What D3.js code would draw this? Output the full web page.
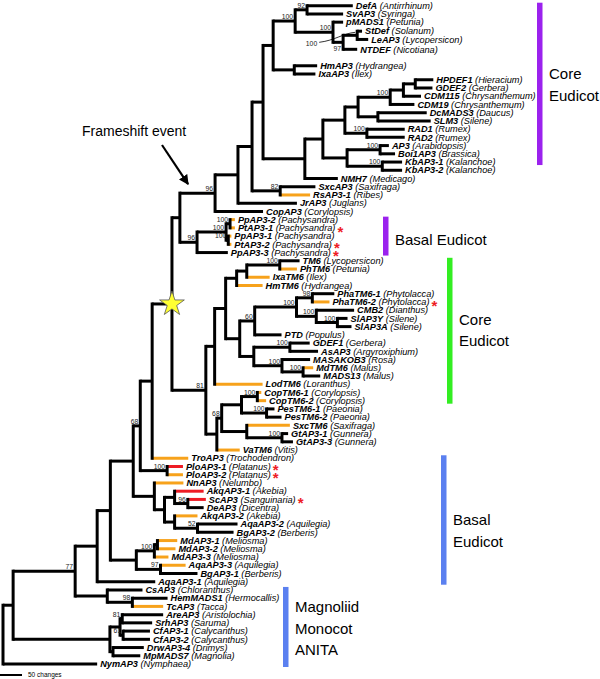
<!DOCTYPE html>
<html>
<head>
<meta charset="utf-8">
<script src="https://cdn.jsdelivr.net/npm/d3@7"></script>
<style>
  body { margin: 0; background: #fff; }
  svg { display: block; font-family: "Liberation Sans", Arial, sans-serif; }
</style>
</head>
<body>
<svg width="600" height="679"></svg>
<script>
const width = 600, height = 679;

// --- Tree data (Newick pieces, branch lengths in changes, internal labels = bootstrap) ---
const solanaceae = "((DefA:104,SvAP3:82)92:27,(pMADS1:23,((StDef:11,LeAP3:25)100:32,NTDEF:32)97:23)100:86)100";
const asterids = "(" + solanaceae + ":50,(HmAP3:52,IxaAP3:48):48)";
const coreA = "((((HPDEF1:41,GDEF2:39):27,CDM115:40):30,CDM19:55)100:73,(DcMADS3:111,SLM3:120):45)";
const coreB = "(" + coreA + ":30,(RAD1:86,RAD2:86)100:50)";
const coreC = "((AP3:20,Boi1AP3:34)100:75,(KbAP3-1:45,KbAP3-2:45)100:80)";
const rosids = "((" + coreB + ":50," + coreC + ":55):41,NMH7:75)";
const euAP3 = "((((" + asterids + ":23," + rosids + ":95):25,(SxcAP3:80,RsAP3-1:68)82:64):32,JrAP3:134):52,CopAP3:109)96";
const pachy = "(((PpAP3-2:11,PtAP3-1:11)100:9,(PpAP3-1:7,PtAP3-2:7)100:5)100:66,PpAP3-3:70)96";
const tm6a = "(((TM6:45,PhTM6:39)100:75,IxaTM6:52):23,HmTM6:59)";
const tm6b = "(((PhaTM6-1:50,PhaTM6-2:39)98:36,(CMB2:86,(SlAP3Y:23,SlAP3A:32)100:48)100:45)100:95,PTD:61)60";
const tm6c = "((GDEF1:45,AsAP3:64)100:82,(MASAKOB3:64,(MdTM6:23,MADS13:39)100:48)100:64)";
const tm6d = "((((CopTM6-1:9,CopTM6-2:20)100:36,(PesTM6-1:18,PesTM6-2:34)100:57):45,(SxcTM6:98,(GtAP3-1:14,GtAP3-3:25)100:80):57)68:11,VaTM6:52)";
const tm6 = "(((" + tm6a + ":25,(" + tm6b + ":34," + tm6c + ":32):32):25,LodTM6:109):20," + tm6d + ":25)81";
const starClade = "((" + euAP3 + ":80," + pachy + ":39):18," + tm6 + ":77)star";
const basalEud = "(((" + starClade + ":45,TroAP3:82):27,(PloAP3-1:36,PloAP3-2:36)100:61)68:16,(NnAP3:66,((AkqAP3-1:66,(ScAP3:41,DeAP3:36)96:30):23,(AkqAP3-2:52,(AqaAP3-2:91,BgAP3-2:82)52:52):23):23):48)";
const meliosma = "(((MdAP3-1:45,MdAP3-2:41):7,MdAP3-3:32)100:41,(AqaAP3-3:57,BgAP3-1:84)97:55)";
const eudicots = "((" + basalEud + ":52," + meliosma + ":59):30,AqaAP3-1:132)";
const monocots = "(CsAP3:80,(HemMADS1:80,TcAP3:70)98:57)";
const magnoliids = "(((AreAP3:93,SrhAP3:68)81:5,(CfAP3-1:61,CfAP3-2:61)61:7):23,(DrwAP3-4:70,MpMADS7:62):7)";
const newick = "(((" + eudicots + ":50," + monocots + ":73)77:141," + magnoliids + ":220):23,NymAP3:214);";

const species = {
  "DefA": "Antirrhinum", "SvAP3": "Syringa", "pMADS1": "Petunia", "StDef": "Solanum",
  "LeAP3": "Lycopersicon", "NTDEF": "Nicotiana", "HmAP3": "Hydrangea", "IxaAP3": "Ilex",
  "HPDEF1": "Hieracium", "GDEF2": "Gerbera", "CDM115": "Chrysanthemum", "CDM19": "Chrysanthemum",
  "DcMADS3": "Daucus", "SLM3": "Silene", "RAD1": "Rumex", "RAD2": "Rumex",
  "AP3": "Arabidopsis", "Boi1AP3": "Brassica", "KbAP3-1": "Kalanchoe", "KbAP3-2": "Kalanchoe",
  "NMH7": "Medicago", "SxcAP3": "Saxifraga", "RsAP3-1": "Ribes", "JrAP3": "Juglans",
  "CopAP3": "Corylopsis", "PpAP3-2": "Pachysandra", "PtAP3-1": "Pachysandra", "PpAP3-1": "Pachysandra",
  "PtAP3-2": "Pachysandra", "PpAP3-3": "Pachysandra", "TM6": "Lycopersicon", "PhTM6": "Petunia",
  "IxaTM6": "Ilex", "HmTM6": "Hydrangea", "PhaTM6-1": "Phytolacca", "PhaTM6-2": "Phytolacca",
  "CMB2": "Dianthus", "SlAP3Y": "Silene", "SlAP3A": "Silene", "PTD": "Populus",
  "GDEF1": "Gerbera", "AsAP3": "Argyroxiphium", "MASAKOB3": "Rosa", "MdTM6": "Malus",
  "MADS13": "Malus", "LodTM6": "Loranthus", "CopTM6-1": "Corylopsis", "CopTM6-2": "Corylopsis",
  "PesTM6-1": "Paeonia", "PesTM6-2": "Paeonia", "SxcTM6": "Saxifraga", "GtAP3-1": "Gunnera",
  "GtAP3-3": "Gunnera", "VaTM6": "Vitis", "TroAP3": "Trochodendron", "PloAP3-1": "Platanus",
  "PloAP3-2": "Platanus", "NnAP3": "Nelumbo", "AkqAP3-1": "Akebia", "ScAP3": "Sanguinaria",
  "DeAP3": "Dicentra", "AkqAP3-2": "Akebia", "AqaAP3-2": "Aquilegia", "BgAP3-2": "Berberis",
  "MdAP3-1": "Meliosma", "MdAP3-2": "Meliosma", "MdAP3-3": "Meliosma", "AqaAP3-3": "Aquilegia",
  "BgAP3-1": "Berberis", "AqaAP3-1": "Aquilegia", "CsAP3": "Chloranthus", "HemMADS1": "Hermocallis",
  "TcAP3": "Tacca", "AreAP3": "Aristolochia", "SrhAP3": "Saruma", "CfAP3-1": "Calycanthus",
  "CfAP3-2": "Calycanthus", "DrwAP3-4": "Drimys", "MpMADS7": "Magnolia", "NymAP3": "Nymphaea"
};

const orangeTips = ["RsAP3-1", "PpAP3-2", "PtAP3-1", "PpAP3-1", "PtAP3-2", "PhTM6", "IxaTM6", "HmTM6",
  "PhaTM6-2", "MdTM6", "LodTM6", "CopTM6-1", "CopTM6-2", "SxcTM6", "VaTM6", "TroAP3", "PloAP3-2",
  "NnAP3", "AkqAP3-2", "MdAP3-1", "MdAP3-2", "MdAP3-3", "AqaAP3-3", "TcAP3"];
const redTips = ["PloAP3-1", "AkqAP3-1", "ScAP3"];
const starTips = ["PtAP3-1", "PtAP3-2", "PpAP3-3", "PhaTM6-2", "PloAP3-1", "PloAP3-2", "ScAP3"];

// row of the first leaves (the top of the tree is packed unevenly), rest follow one per row
const topRows = [0, 1, 2, 3.1, 4.1, 5.3, 7.3, 8.3, 9];

const groups = [
  { lines: ["Core", "Eudicot"], from: "DefA", to: "KbAP3-1", color: "#9b22ee" },
  { lines: ["Basal Eudicot"], from: "PpAP3-2", to: "PpAP3-3", color: "#9b22ee" },
  { lines: ["Core", "Eudicot"], from: "TM6", to: "CopTM6-2", color: "#33ee22" },
  { lines: ["Basal", "Eudicot"], from: "TroAP3", to: "AqaAP3-1", color: "#5b80f0" },
  { lines: ["Magnoliid", "Monocot", "ANITA"], from: "CsAP3", to: "NymAP3", color: "#5b80f0" }
];
// bar x position and text shift for each group (layout)
const groupX = [537, 383, 447, 441, 283];
const groupTextDy = [1, 4, 0, 11, 2];

// --- Parse ---
function parseNewick(s) {
  let i = 0;
  function node() {
    const n = {};
    if (s[i] === "(") {
      n.children = [];
      i++;
      n.children.push(node());
      while (s[i] === ",") { i++; n.children.push(node()); }
      i++; // ")"
    }
    let name = "";
    while (i < s.length && !":,();".includes(s[i])) name += s[i++];
    n.name = name;
    let len = "";
    if (s[i] === ":") {
      i++;
      while (i < s.length && !",();".includes(s[i])) len += s[i++];
    }
    n.length = +len || 0;
    return n;
  }
  return node();
}

const root = d3.hierarchy(parseNewick(newick));
root.eachBefore(d => d.dist = (d.parent ? d.parent.dist : 0) + d.data.length);

const x = d3.scaleLinear().domain([0, 50]).range([3, 25]);
const y = d3.scaleLinear().domain([0, 80]).range([5.7, 664]);

const leaves = root.leaves();
leaves.forEach((d, i) => d.y = y(i < topRows.length ? topRows[i] : i + 1));
root.eachAfter(d => {
  if (d.children) d.y = (d.children[0].y + d.children[d.children.length - 1].y) / 2;
});
root.each(d => d.x = x(d.dist));
const leafBy = new Map(leaves.map(d => [d.data.name, d]));

const svg = d3.select("svg").attr("viewBox", [0, 0, width, height]);

const tipColor = d => redTips.includes(d.data.name) ? "#ee1c25"
  : orangeTips.includes(d.data.name) ? "#f7a21b" : "#000";

// horizontal branches
svg.append("g")
  .selectAll("path")
  .data(root.descendants().filter(d => d.parent))
  .join("path")
  .attr("d", d => `M${d.parent.x},${d.y}H${d.x}`)
  .attr("stroke", d => d.children ? "#000" : tipColor(d))
  .attr("stroke-width", 3)
  .attr("fill", "none");

// vertical connectors
svg.append("g")
  .selectAll("path")
  .data(root.descendants().filter(d => d.children))
  .join("path")
  .attr("d", d => `M${d.x},${d.children[0].y}V${d.children[d.children.length - 1].y}`)
  .attr("stroke", "#000")
  .attr("stroke-width", 3)
  .attr("stroke-linecap", "square")
  .attr("fill", "none");

// tip labels
const tipText = svg.append("g")
  .attr("font-size", 9.2)
  .selectAll("text")
  .data(leaves)
  .join("text")
  .attr("x", d => d.x + 3)
  .attr("y", d => d.y + 3.2)
  .attr("font-style", "italic");
tipText.append("tspan").attr("font-weight", "bold").text(d => d.data.name);
tipText.append("tspan").text(d => ` (${species[d.data.name]})`);
tipText.filter(d => starTips.includes(d.data.name))
  .append("tspan")
  .attr("dx", 2).attr("dy", 5.5)
  .attr("font-size", 15).attr("font-weight", "bold").attr("font-style", "normal")
  .attr("fill", "#ee1c25")
  .text("*");

// bootstrap values
const solNode = leafBy.get("StDef").parent;
const belowNode = leafBy.get("NTDEF").parent;
const boot = root.descendants().filter(d => d.children && /^\d+$/.test(d.data.name));
svg.append("g")
  .attr("font-size", 6.8)
  .attr("fill", "#222")
  .attr("text-anchor", "end")
  .selectAll("text")
  .data(boot)
  .join("text")
  .attr("x", d => d === solNode ? d.x - 40 : d.x - 2)
  .attr("y", d => d === solNode ? d.y + 11 : d === belowNode ? d.y + 8.5 : d.y - 2)
  .text(d => d.data.name);

// curved pointer for the StDef/LeAP3 support value
svg.append("path")
  .attr("d", `M${solNode.x - 38},${solNode.y + 7} C${solNode.x - 22},${solNode.y + 5} ${solNode.x - 14},${solNode.y - 2} ${solNode.x - 2},${solNode.y - 3}`)
  .attr("fill", "none").attr("stroke", "#000").attr("stroke-width", 0.8);

// star on the duplication branch
const starNode = root.descendants().find(d => d.data.name === "star");
svg.append("path")
  .attr("transform", `translate(${starNode.x},${starNode.y})`)
  .attr("d", d3.symbol(d3.symbolStar, 190)())
  .attr("fill", "#ffff33").attr("stroke", "#555").attr("stroke-width", 0.8);

// frameshift annotation
svg.append("defs").append("marker")
  .attr("id", "arrow").attr("viewBox", "0 0 10 10")
  .attr("refX", 9).attr("refY", 5)
  .attr("markerWidth", 4.5).attr("markerHeight", 4.5)
  .attr("orient", "auto")
  .append("path").attr("d", "M0,0L10,5L0,10Z").attr("fill", "#000");
const fsNode = leafBy.get("CopAP3").parent;
svg.append("text")
  .attr("x", 82).attr("y", 136)
  .attr("font-size", 14)
  .text("Frameshift event");
svg.append("line")
  .attr("x1", 162).attr("y1", 145)
  .attr("x2", fsNode.x - 27).attr("y2", fsNode.y - 9)
  .attr("stroke", "#000").attr("stroke-width", 2.2)
  .attr("marker-end", "url(#arrow)");

// clade bars and names
const gGroups = svg.append("g").selectAll("g").data(groups).join("g");
gGroups.append("rect")
  .attr("x", (d, i) => groupX[i])
  .attr("y", d => leafBy.get(d.from).y - 3)
  .attr("width", 5.5)
  .attr("height", d => leafBy.get(d.to).y - leafBy.get(d.from).y + 6)
  .attr("fill", d => d.color);
gGroups.each(function(d, i) {
  const mid = (leafBy.get(d.from).y + leafBy.get(d.to).y) / 2;
  const lh = 21.5;
  const y0 = mid - (d.lines.length - 1) * lh / 2 + 5 + groupTextDy[i];
  d3.select(this).selectAll("text")
    .data(d.lines)
    .join("text")
    .attr("x", groupX[i] + 12)
    .attr("y", (t, j) => y0 + j * lh)
    .attr("font-size", 15)
    .text(t => t);
});

// scale bar
svg.append("line")
  .attr("x1", x(0) - 3).attr("x2", x(50) - 3)
  .attr("y1", 675).attr("y2", 675)
  .attr("stroke", "#000").attr("stroke-width", 2);
svg.append("text")
  .attr("x", x(50) + 3).attr("y", 677)
  .attr("font-size", 6.5)
  .text("50 changes");
</script>
</body>
</html>
